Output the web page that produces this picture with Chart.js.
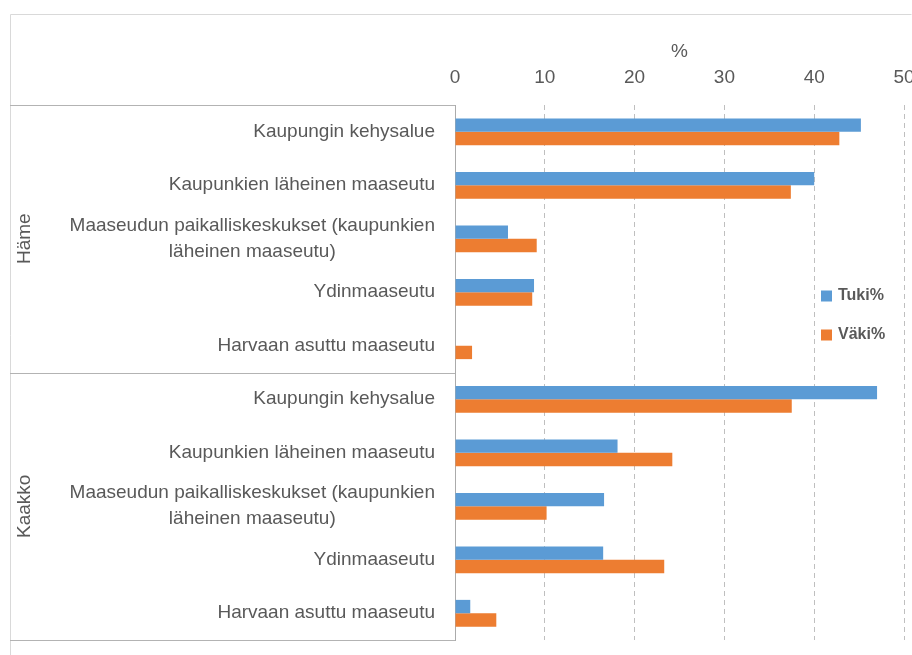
<!DOCTYPE html>
<html>
<head>
<meta charset="utf-8">
<script src="https://cdn.jsdelivr.net/npm/chart.js@4/dist/chart.umd.min.js"></script>
<style>
  html, body { margin: 0; padding: 0; background: #ffffff; overflow: hidden; }
  #c { display: block; }
</style>
</head>
<body>
<canvas id="c" width="922" height="655"></canvas>
<script>
// ---- data ----
const groups = ['Häme', 'Kaakko'];
const groupSizes = [5, 5];
const categories = [
  'Kaupungin kehysalue',
  'Kaupunkien läheinen maaseutu',
  ['Maaseudun paikalliskeskukset (kaupunkien', 'läheinen maaseutu)'],
  'Ydinmaaseutu',
  'Harvaan asuttu maaseutu',
  'Kaupungin kehysalue',
  'Kaupunkien läheinen maaseutu',
  ['Maaseudun paikalliskeskukset (kaupunkien', 'läheinen maaseutu)'],
  'Ydinmaaseutu',
  'Harvaan asuttu maaseutu'
];
const tukiValues = [45.2, 40.0, 5.9, 8.8, 0, 47.0, 18.1, 16.6, 16.5, 1.7];
const vakiValues = [42.8, 37.4, 9.1, 8.6, 1.9, 37.5, 24.2, 10.2, 23.3, 4.6];
const seriesNames = ['Tuki%', 'Väki%'];
const xTicks = [0, 10, 20, 30, 40, 50];
const axisTitle = '%';

const TEXT = '#595959';
const FONT = '"Liberation Sans", Arial, sans-serif';

const decorPlugin = {
  id: 'decor',
  beforeDraw(chart) {
    const ctx = chart.ctx;
    ctx.save();
    ctx.strokeStyle = '#d9d9d9';
    ctx.lineWidth = 1;
    ctx.beginPath();
    ctx.moveTo(10.5, 700);
    ctx.lineTo(10.5, 14.5);
    ctx.lineTo(911.5, 14.5);
    ctx.stroke();
    ctx.restore();
  },
  afterDraw(chart) {
    const ctx = chart.ctx;
    const ca = chart.chartArea;
    const y = chart.scales.y;
    ctx.save();
    // category labels
    ctx.fillStyle = TEXT;
    ctx.font = '19px ' + FONT;
    ctx.textBaseline = 'middle';
    const rightX = ca.left - 20;
    const lh = 26;
    categories.forEach((lab, i) => {
      const cy = y.getPixelForTick(i);
      const lines = Array.isArray(lab) ? lab : [lab];
      const widths = lines.map(l => ctx.measureText(l).width);
      const maxW = Math.max(...widths);
      const centerX = rightX - maxW / 2;
      lines.forEach((l, k) => {
        const ly = cy + (k - (lines.length - 1) / 2) * lh;
        ctx.textAlign = 'center';
        ctx.fillText(l, centerX, ly);
      });
    });
    // group boxes
    ctx.strokeStyle = '#b3b3b3';
    ctx.lineWidth = 1;
    let start = 0;
    const bounds = [ca.top];
    groupSizes.forEach((n, g) => {
      const end = start + n - 1;
      const bottom = (end === categories.length - 1) ? ca.bottom :
        (y.getPixelForTick(end) + y.getPixelForTick(end + 1)) / 2;
      bounds.push(bottom);
      start += n;
    });
    bounds.forEach(b => {
      const yy = Math.round(b) + 0.5;
      ctx.beginPath();
      ctx.moveTo(10, yy);
      ctx.lineTo(ca.left, yy);
      ctx.stroke();
    });
    // group labels
    groups.forEach((gname, g) => {
      const cy = (bounds[g] + bounds[g + 1]) / 2;
      ctx.save();
      ctx.translate(25, cy);
      ctx.rotate(-Math.PI / 2);
      ctx.textAlign = 'center';
      ctx.textBaseline = 'middle';
      ctx.fillStyle = TEXT;
      ctx.font = '19px ' + FONT;
      ctx.fillText(gname, 0, 0);
      ctx.restore();
    });
    // legend
    const lx = ca.right - 83;
    const ly = [ca.top + 191, ca.top + 230];
    chart.data.datasets.forEach((ds, i) => {
      ctx.fillStyle = ds.backgroundColor;
      ctx.fillRect(lx, ly[i] - 5.5, 11, 11);
      ctx.fillStyle = TEXT;
      ctx.font = 'bold 16px ' + FONT;
      ctx.textAlign = 'left';
      ctx.textBaseline = 'middle';
      ctx.fillText(ds.label, lx + 17, ly[i]);
    });
    ctx.restore();
  }
};

new Chart(document.getElementById('c'), {
  type: 'bar',
  data: {
    labels: categories,
    datasets: [
      { label: seriesNames[0], data: tukiValues, backgroundColor: '#5B9BD5', borderWidth: 0 },
      { label: seriesNames[1], data: vakiValues, backgroundColor: '#ED7D31', borderWidth: 0 }
    ]
  },
  options: {
    indexAxis: 'y',
    responsive: false,
    animation: false,
    layout: { padding: { left: 0, right: 18, top: 0, bottom: 15 } },
    datasets: { bar: { categoryPercentage: 0.5, barPercentage: 1.0 } },
    plugins: { legend: { display: false }, tooltip: { enabled: false } },
    scales: {
      x: {
        position: 'top',
        min: 0,
        max: 50,
        afterBuildTicks(scale) { scale.ticks = xTicks.map(v => ({ value: v })); },
        afterFit(scale) {
          scale.height = 105;
          scale.paddingLeft = 0;
          scale.paddingRight = 0;
        },
        ticks: { color: TEXT, font: { family: FONT, size: 19 }, padding: 16 },
        grid: {
          drawTicks: false,
          color: (c) => (c.tick && c.tick.value === 0) ? 'rgba(0,0,0,0)' : '#bfbfbf',
          lineWidth: 1
        },
        border: { display: false, dash: [5, 4] },
        title: { display: true, text: axisTitle, color: TEXT, font: { family: FONT, size: 19 }, padding: { top: 40, bottom: 0 } }
      },
      y: {
        ticks: { display: false },
        grid: { display: false },
        border: { display: true, color: '#ababab', width: 1 },
        afterFit(scale) {
          scale.width = 455;
          scale.paddingTop = 0;
          scale.paddingBottom = 0;
        }
      }
    }
  },
  plugins: [decorPlugin]
});
</script>
</body>
</html>
